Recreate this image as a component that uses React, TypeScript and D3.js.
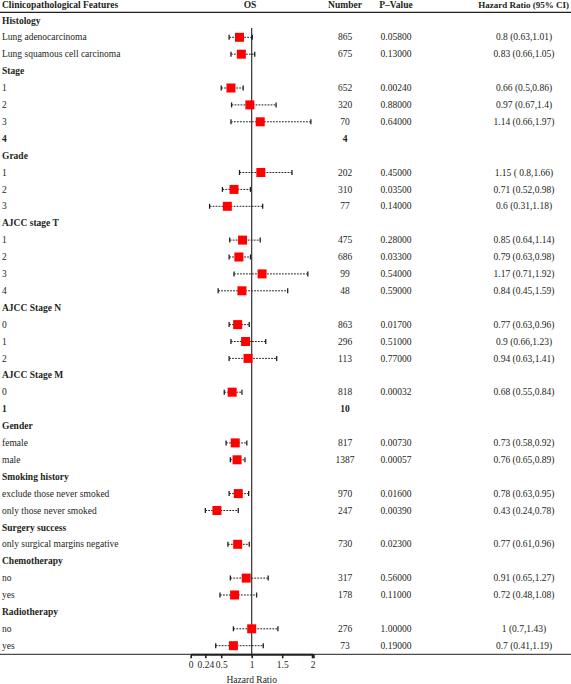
import React, { useEffect, useRef } from "react";
import * as d3 from "d3";

// ---- data ----
const labels = [
  "Histology", "Lung adenocarcinoma", "Lung squamous cell carcinoma",
  "Stage", "1", "2", "3", "4",
  "Grade", "1", "2", "3",
  "AJCC stage T", "1", "2", "3", "4",
  "AJCC Stage N", "0", "1", "2",
  "AJCC Stage M", "0", "1",
  "Gender", "female", "male",
  "Smoking history", "exclude those never smoked", "only those never smoked",
  "Surgery success", "only surgical margins negative",
  "Chemotherapy", "no", "yes",
  "Radiotherapy", "no", "yes",
];
// h = group header (bold), r = normal row, b = bold row
const kinds = [
  "h", "r", "r",
  "h", "r", "r", "r", "b",
  "h", "r", "r", "r",
  "h", "r", "r", "r", "r",
  "h", "r", "r", "r",
  "h", "r", "b",
  "h", "r", "r",
  "h", "r", "r",
  "h", "r",
  "h", "r", "r",
  "h", "r", "r",
];
const numbers: (string | null)[] = [
  null, "865", "675",
  null, "652", "320", "70", "4",
  null, "202", "310", "77",
  null, "475", "686", "99", "48",
  null, "863", "296", "113",
  null, "818", "10",
  null, "817", "1387",
  null, "970", "247",
  null, "730",
  null, "317", "178",
  null, "276", "73",
];
const pValues: (string | null)[] = [
  null, "0.05800", "0.13000",
  null, "0.00240", "0.88000", "0.64000", null,
  null, "0.45000", "0.03500", "0.14000",
  null, "0.28000", "0.03300", "0.54000", "0.59000",
  null, "0.01700", "0.51000", "0.77000",
  null, "0.00032", null,
  null, "0.00730", "0.00057",
  null, "0.01600", "0.00390",
  null, "0.02300",
  null, "0.56000", "0.11000",
  null, "1.00000", "0.19000",
];
const hr: (number | null)[] = [
  null, 0.8, 0.83,
  null, 0.66, 0.97, 1.14, null,
  null, 1.15, 0.71, 0.6,
  null, 0.85, 0.79, 1.17, 0.84,
  null, 0.77, 0.9, 0.94,
  null, 0.68, null,
  null, 0.73, 0.76,
  null, 0.78, 0.43,
  null, 0.77,
  null, 0.91, 0.72,
  null, 1, 0.7,
];
const lower: (number | null)[] = [
  null, 0.63, 0.66,
  null, 0.5, 0.67, 0.66, null,
  null, 0.8, 0.52, 0.31,
  null, 0.64, 0.63, 0.71, 0.45,
  null, 0.63, 0.66, 0.63,
  null, 0.55, null,
  null, 0.58, 0.65,
  null, 0.63, 0.24,
  null, 0.61,
  null, 0.65, 0.48,
  null, 0.7, 0.41,
];
const upper: (number | null)[] = [
  null, 1.01, 1.05,
  null, 0.86, 1.4, 1.97, null,
  null, 1.66, 0.98, 1.18,
  null, 1.14, 0.98, 1.92, 1.59,
  null, 0.96, 1.23, 1.41,
  null, 0.84, null,
  null, 0.92, 0.89,
  null, 0.95, 0.78,
  null, 0.96,
  null, 1.27, 1.08,
  null, 1.43, 1.19,
];
const hrTexts: (string | null)[] = [
  null, "0.8 (0.63,1.01)", "0.83 (0.66,1.05)",
  null, "0.66 (0.5,0.86)", "0.97 (0.67,1.4)", "1.14 (0.66,1.97)", null,
  null, "1.15 ( 0.8,1.66)", "0.71 (0.52,0.98)", "0.6 (0.31,1.18)",
  null, "0.85 (0.64,1.14)", "0.79 (0.63,0.98)", "1.17 (0.71,1.92)", "0.84 (0.45,1.59)",
  null, "0.77 (0.63,0.96)", "0.9 (0.66,1.23)", "0.94 (0.63,1.41)",
  null, "0.68 (0.55,0.84)", null,
  null, "0.73 (0.58,0.92)", "0.76 (0.65,0.89)",
  null, "0.78 (0.63,0.95)", "0.43 (0.24,0.78)",
  null, "0.77 (0.61,0.96)",
  null, "0.91 (0.65,1.27)", "0.72 (0.48,1.08)",
  null, "1 (0.7,1.43)", "0.7 (0.41,1.19)",
];
const headers = ["Clinicopathological Features", "OS", "Number", "P\u2013Value", "Hazard Ratio (95% CI)"];
const xTicks = [0, 0.24, 0.5, 1, 1.5, 2];
const xLabel = "Hazard Ratio";

const W = 571;
const H = 684;
const FONT = "'Liberation Serif', 'Times New Roman', serif";
const FS = 9.5;
const INK = "#231f20";

export default function App() {
  const axisRef = useRef<SVGGElement>(null);
  const x = d3.scaleLinear().domain([0, 2]).range([190.7, 312.7]);
  const y = d3.scaleLinear().domain([1, labels.length - 1]).range([37.3, 645.7]);
  const axisY = 654.3;

  useEffect(() => {
    if (!axisRef.current) return;
    const g = d3.select(axisRef.current);
    g.selectAll("*").remove();
    g.call(
      d3
        .axisBottom(x)
        .tickValues(xTicks)
        .tickSize(4)
        .tickSizeOuter(0)
        .tickPadding(3)
        .tickFormat((d) => String(d))
    );
    g.select(".domain").attr("stroke", INK).attr("stroke-width", 2);
    g.selectAll(".tick line").attr("stroke", INK).attr("stroke-width", 1.6);
    g.selectAll(".tick")
      .filter((d: any) => d === 2)
      .select("line")
      .attr("stroke-width", 3);
    g.selectAll(".tick text")
      .attr("fill", INK)
      .attr("font-family", FONT)
      .attr("font-size", FS);
    g.attr("font-family", FONT);
  }, []);

  const colX = { label: 2, os: 250, num: 345, p: 396 };

  return (
    <svg
      width={W}
      height={H}
      style={{ position: "absolute", left: 0, top: 0, background: "#fff" }}
      fontFamily={FONT}
      fontSize={FS}
    >
      <rect x={0} y={0} width={W} height={H} fill="#fff" />
      {/* header */}
      <g fontWeight="bold" fill={INK}>
        <text x={colX.label} y={8}>{headers[0]}</text>
        <text x={colX.os} y={8} textAnchor="middle">{headers[1]}</text>
        <text x={colX.num} y={8} textAnchor="middle">{headers[2]}</text>
        <text x={colX.p} y={8} textAnchor="middle">{headers[3]}</text>
        <text x={569} y={8} textAnchor="end" fontSize={9}>{headers[4]}</text>
      </g>
      <line x1={0} x2={W} y1={12.3} y2={12.3} stroke={INK} strokeWidth={1.2} />

      {/* reference line */}
      <line x1={x(1)} x2={x(1)} y1={28} y2={axisY} stroke={INK} strokeWidth={1.1} />

      {/* rows */}
      {labels.map((lab, i) => {
        const cy = y(i);
        const bold = kinds[i] !== "r";
        return (
          <g key={i} fill={INK}>
            <text x={colX.label} y={cy} dy="0.33em" fontWeight={bold ? "bold" : "normal"}>
              {lab}
            </text>
            {numbers[i] && (
              <text x={colX.num} y={cy} dy="0.33em" textAnchor="middle" fontWeight={kinds[i] === "b" ? "bold" : "normal"}>
                {numbers[i]}
              </text>
            )}
            {pValues[i] && (
              <text x={colX.p} y={cy} dy="0.33em" textAnchor="middle">
                {pValues[i]}
              </text>
            )}
            {hrTexts[i] && (
              <text x={524} y={cy} dy="0.33em" textAnchor="middle">
                {hrTexts[i]}
              </text>
            )}
            {hr[i] != null && lower[i] != null && upper[i] != null && (
              <g>
                <line
                  x1={x(lower[i] as number)}
                  x2={x(upper[i] as number)}
                  y1={cy}
                  y2={cy}
                  stroke={INK}
                  strokeWidth={1}
                  strokeDasharray="1.8,1.2"
                />
                <line x1={x(lower[i] as number)} x2={x(lower[i] as number)} y1={cy - 2.5} y2={cy + 2.5} stroke={INK} strokeWidth={1.3} />
                <line x1={x(upper[i] as number)} x2={x(upper[i] as number)} y1={cy - 2.5} y2={cy + 2.5} stroke={INK} strokeWidth={1.3} />
                <rect
                  x={x(hr[i] as number) - 4.5}
                  y={cy - 4.5}
                  width={9}
                  height={9}
                  fill="#ff0000"
                />
              </g>
            )}
          </g>
        );
      })}

      {/* axis */}
      <line x1={0} x2={W} y1={axisY} y2={axisY} stroke={INK} strokeWidth={1} />
      <g ref={axisRef} transform={`translate(0,${axisY})`} />
      <text x={x(1)} y={683} textAnchor="middle" fill={INK}>
        {xLabel}
      </text>
    </svg>
  );
}
